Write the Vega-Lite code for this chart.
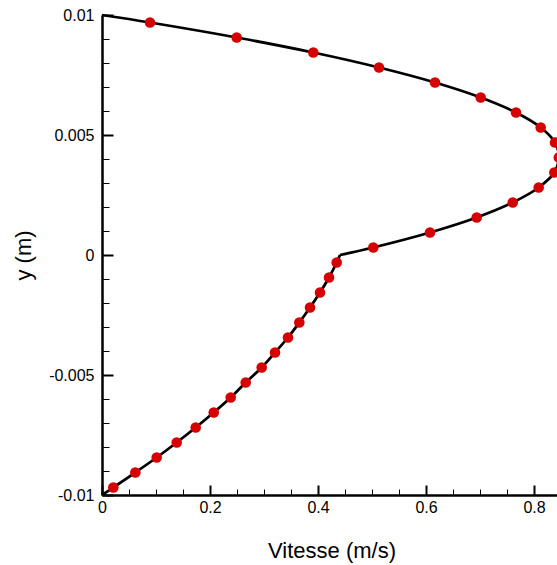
{
  "$schema": "https://vega.github.io/schema/vega-lite/v6.json",
  "width": 459,
  "height": 480,
  "autosize": {"type": "none"},
  "padding": {"left": 102, "top": 15, "right": 0, "bottom": 70},
  "background": "white",
  "config": {"view": {"stroke": null}, "font": "Liberation Sans"},
  "datasets": {
    "line": [
      {"branch": "upper", "u": 0.4407, "y": 0},
      {"branch": "upper", "u": 0.5024, "y": 0.0003125},
      {"branch": "upper", "u": 0.6074, "y": 0.0009375},
      {"branch": "upper", "u": 0.6939, "y": 0.0015625},
      {"branch": "upper", "u": 0.7606, "y": 0.0021875},
      {"branch": "upper", "u": 0.8087, "y": 0.0028125},
      {"branch": "upper", "u": 0.8376, "y": 0.0034375},
      {"branch": "upper", "u": 0.846, "y": 0.0040625},
      {"branch": "upper", "u": 0.8389, "y": 0.0046875},
      {"branch": "upper", "u": 0.8124, "y": 0.0053125},
      {"branch": "upper", "u": 0.7667, "y": 0.0059375},
      {"branch": "upper", "u": 0.7013, "y": 0.0065625},
      {"branch": "upper", "u": 0.6167, "y": 0.0071875},
      {"branch": "upper", "u": 0.513, "y": 0.0078125},
      {"branch": "upper", "u": 0.3913, "y": 0.0084375},
      {"branch": "upper", "u": 0.2494, "y": 0.0090625},
      {"branch": "upper", "u": 0.0889, "y": 0.0096875},
      {"branch": "upper", "u": 0, "y": 0.01},
      {"branch": "lower", "u": 0.4407, "y": 0},
      {"branch": "lower", "u": 0.4346, "y": -0.0003125},
      {"branch": "lower", "u": 0.4204, "y": -0.0009375},
      {"branch": "lower", "u": 0.4037, "y": -0.0015625},
      {"branch": "lower", "u": 0.3852, "y": -0.0021875},
      {"branch": "lower", "u": 0.3654, "y": -0.0028125},
      {"branch": "lower", "u": 0.3444, "y": -0.0034375},
      {"branch": "lower", "u": 0.3204, "y": -0.0040625},
      {"branch": "lower", "u": 0.2957, "y": -0.0046875},
      {"branch": "lower", "u": 0.2661, "y": -0.0053125},
      {"branch": "lower", "u": 0.2383, "y": -0.0059375},
      {"branch": "lower", "u": 0.2069, "y": -0.0065625},
      {"branch": "lower", "u": 0.1735, "y": -0.0071875},
      {"branch": "lower", "u": 0.1383, "y": -0.0078125},
      {"branch": "lower", "u": 0.1013, "y": -0.0084375},
      {"branch": "lower", "u": 0.0617, "y": -0.0090625},
      {"branch": "lower", "u": 0.0209, "y": -0.0096875},
      {"branch": "lower", "u": 0, "y": -0.01}
    ],
    "pts": [
      {"u": 0.0889, "y": 0.0096875},
      {"u": 0.2494, "y": 0.0090625},
      {"u": 0.3913, "y": 0.0084375},
      {"u": 0.513, "y": 0.0078125},
      {"u": 0.6167, "y": 0.0071875},
      {"u": 0.7013, "y": 0.0065625},
      {"u": 0.7667, "y": 0.0059375},
      {"u": 0.8124, "y": 0.0053125},
      {"u": 0.8389, "y": 0.0046875},
      {"u": 0.846, "y": 0.0040625},
      {"u": 0.8376, "y": 0.0034375},
      {"u": 0.8087, "y": 0.0028125},
      {"u": 0.7606, "y": 0.0021875},
      {"u": 0.6939, "y": 0.0015625},
      {"u": 0.6074, "y": 0.0009375},
      {"u": 0.5024, "y": 0.0003125},
      {"u": 0.4346, "y": -0.0003125},
      {"u": 0.4204, "y": -0.0009375},
      {"u": 0.4037, "y": -0.0015625},
      {"u": 0.3852, "y": -0.0021875},
      {"u": 0.3654, "y": -0.0028125},
      {"u": 0.3444, "y": -0.0034375},
      {"u": 0.3204, "y": -0.0040625},
      {"u": 0.2957, "y": -0.0046875},
      {"u": 0.2661, "y": -0.0053125},
      {"u": 0.2383, "y": -0.0059375},
      {"u": 0.2069, "y": -0.0065625},
      {"u": 0.1735, "y": -0.0071875},
      {"u": 0.1383, "y": -0.0078125},
      {"u": 0.1013, "y": -0.0084375},
      {"u": 0.0617, "y": -0.0090625},
      {"u": 0.0209, "y": -0.0096875}
    ]
  },
  "layer": [
    {
      "data": {"name": "line"},
      "mark": {"type": "line", "color": "black", "strokeWidth": 2.75, "interpolate": "catmull-rom"},
      "encoding": {
        "x": {
          "field": "u", "type": "quantitative",
          "scale": {"domain": [0, 0.85], "nice": false, "zero": false},
          "axis": {
            "orient": "bottom", "values": [0, 0.2, 0.4, 0.6, 0.8],
            "tickSize": -10, "tickWidth": 2, "tickColor": "black",
            "domainColor": "black", "domainWidth": 2.5,
            "labelFontSize": 16, "labelColor": "black", "labelPadding": 14,
            "labelExpr": "'' + datum.value", "labelFlush": false, "labelOverlap": false,
            "grid": false,
            "title": "Vitesse (m/s)", "titleFontSize": 22, "titleFontWeight": "normal",
            "titleColor": "black", "titleBaseline": "alphabetic", "titleX": 229.5, "titleY": 62.7
          }
        },
        "y": {
          "field": "y", "type": "quantitative",
          "scale": {"domain": [-0.01, 0.01], "nice": false, "zero": false},
          "axis": {
            "orient": "left", "values": [-0.01, -0.005, 0, 0.005, 0.01],
            "tickSize": -11, "tickWidth": 2, "tickColor": "black",
            "domainColor": "black", "domainWidth": 2.5,
            "labelFontSize": 16, "labelColor": "black", "labelPadding": 19,
            "labelExpr": "'' + datum.value", "labelFlush": false, "labelOverlap": false,
            "grid": false,
            "title": "y (m)", "titleFontSize": 22, "titleFontWeight": "normal",
            "titleColor": "black", "titleBaseline": "alphabetic", "titleAngle": 270,
            "titleX": -72, "titleY": 240
          }
        },
        "detail": {"field": "branch"},
        "order": {"field": "y", "type": "quantitative"}
      }
    },
    {
      "data": {"name": "pts"},
      "mark": {"type": "circle", "color": "#d50000", "opacity": 1, "size": 112},
      "encoding": {
        "x": {
          "field": "u", "type": "quantitative",
          "scale": {"domain": [0, 0.85], "nice": false, "zero": false},
          "axis": {
            "orient": "bottom",
            "values": [0.05, 0.1, 0.15, 0.25, 0.3, 0.35, 0.45, 0.5, 0.55, 0.65, 0.7, 0.75],
            "tickSize": -6, "tickWidth": 1, "tickColor": "black",
            "domain": false, "labels": false, "grid": false, "title": null
          }
        },
        "y": {
          "field": "y", "type": "quantitative",
          "scale": {"domain": [-0.01, 0.01], "nice": false, "zero": false},
          "axis": {
            "orient": "left",
            "values": [-0.009, -0.008, -0.007, -0.006, -0.004, -0.003, -0.002, -0.001, 0.001, 0.002, 0.003, 0.004, 0.006, 0.007, 0.008, 0.009],
            "tickSize": -7, "tickWidth": 1, "tickColor": "black",
            "domain": false, "labels": false, "grid": false, "title": null
          }
        }
      }
    }
  ],
  "resolve": {"axis": {"x": "independent", "y": "independent"}}
}
